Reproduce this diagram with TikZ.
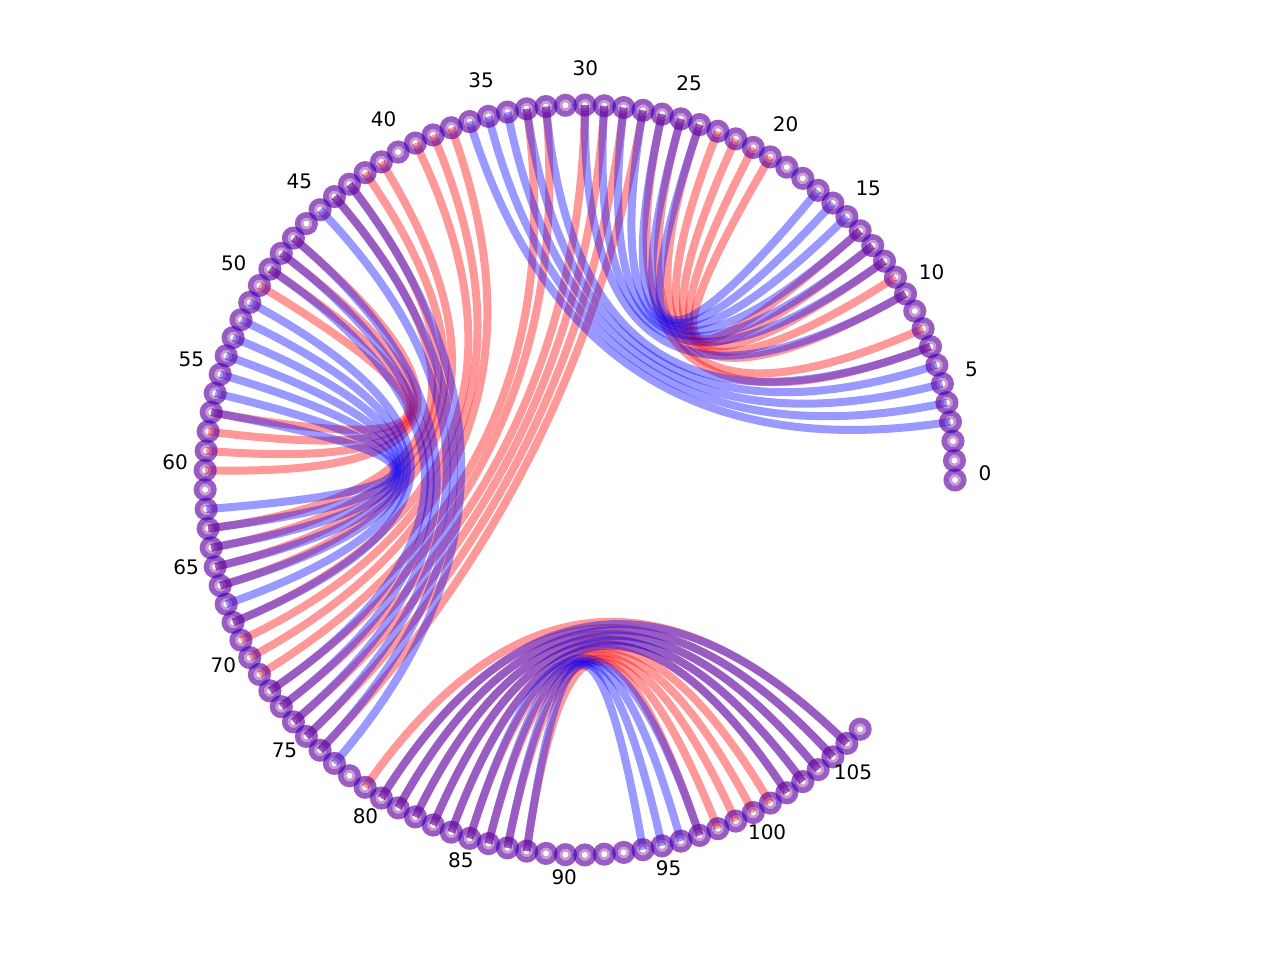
\documentclass[tikz,border=0pt]{standalone}
\usepackage{fontspec}
\setmainfont{DejaVu Sans}
\usetikzlibrary{calc}
\begin{document}
\begin{tikzpicture}[x=1pt,y=1pt,
  redarc/.style={draw=red,opacity=0.4,line width=8pt},
  bluearc/.style={draw=blue,opacity=0.4,line width=8pt},
  ringred/.style={draw=red,opacity=0.4,line width=5.5pt},
  ringblue/.style={draw=blue,opacity=0.4,line width=5.5pt},
  innerred/.style={draw=red,opacity=0.22,line width=2.8pt},
  innerblue/.style={draw=blue,opacity=0.22,line width=2.8pt},
  lab/.style={font=\fontsize{20}{22}\selectfont,text=black,inner sep=0pt}]
\useasboundingbox (0,0) rectangle (1280,960);
\coordinate (o) at (580,480);
\foreach \k in {0,...,107}{
  \pgfmathsetmacro\ang{\k*2.97521}
  \coordinate (n\k) at ($(o)+(\ang:375)$);
  \coordinate (c\k) at ($(o)+(\ang:125)$);
}
% red structure
\foreach \a/\b in {7/26,8/25,10/24,11/23,12/22,13/21,14/20,
  27/76,28/75,29/74,30/73,32/72,33/71,
  37/70,38/69,39/68,41/66,42/65,43/64,44/63,
  47/60,48/59,49/58,50/57,
  79/106,80/105,81/104,82/103,83/102,84/101,85/100,86/99,87/98,88/97}
  \draw[redarc] (n\a) .. controls (c\a) and (c\b) .. (n\b);
% blue structure
\foreach \a/\b in {3/36,4/35,5/34,6/33,7/32,10/30,12/29,13/28,14/27,15/26,16/25,17/24,
  43/77,44/76,45/75,47/74,48/73,49/72,
  51/68,52/67,53/66,54/65,55/64,56/63,57/62,
  80/106,81/105,82/104,83/103,84/102,85/97,86/96,87/95,88/94}
  \draw[bluearc] (n\a) .. controls (c\a) and (c\b) .. (n\b);
% nodes
\foreach \k in {0,...,107}{
  \draw[ringred] (n\k) circle[radius=8.75];
  \draw[innerred] (n\k) circle[radius=4.6];
}
\foreach \k in {0,...,107}{
  \draw[ringblue] (n\k) circle[radius=8.75];
  \draw[innerblue] (n\k) circle[radius=4.6];
}
% labels
\foreach \k in {0,5,...,105}{
  \pgfmathsetmacro\ang{\k*2.97521}
  \node[lab] (l\k) at ($(o)+(\ang:405)+(0,7)$) {\k};
}
\end{tikzpicture}
\end{document}
